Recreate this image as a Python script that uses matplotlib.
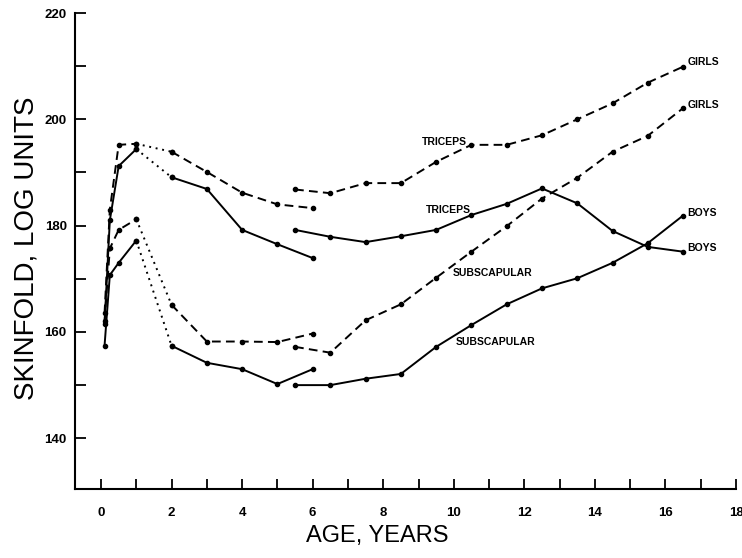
import numpy as np
import matplotlib
matplotlib.use('Agg')
import matplotlib.pyplot as plt
from matplotlib.ticker import MultipleLocator

# ages (years) of the two measurement series
ages_early = [0.1, 0.25, 0.5, 1, 2, 3, 4, 5, 6]
ages_late = [5.5, 6.5, 7.5, 8.5, 9.5, 10.5, 11.5, 12.5, 13.5, 14.5, 15.5, 16.5]

# skinfold, log units
girls_triceps_early = [163.5, 183.0, 195.2, 195.4, 193.9, 190.1, 186.2, 184.0, 183.3]
boys_triceps_early = [161.5, 181.0, 191.2, 194.4, 189.1, 186.9, 179.2, 176.5, 173.9]
girls_subscap_early = [162.0, 175.7, 179.2, 181.2, 165.1, 158.2, 158.2, 158.1, 159.7]
boys_subscap_early = [157.4, 170.7, 173.0, 177.2, 157.4, 154.2, 153.0, 150.2, 153.0]

girls_triceps_late = [186.8, 186.1, 188.0, 188.0, 192.0, 195.2, 195.2, 197.0, 200.0, 203.0, 206.9, 209.9]
boys_triceps_late = [179.2, 177.9, 176.9, 178.0, 179.2, 182.0, 184.1, 187.0, 184.2, 179.0, 176.0, 175.1]
girls_subscap_late = [157.2, 156.1, 162.2, 165.2, 170.2, 175.1, 179.9, 185.1, 189.0, 193.9, 196.9, 202.1]
boys_subscap_late = [150.0, 150.0, 151.2, 152.1, 157.2, 161.3, 165.2, 168.2, 170.1, 173.0, 176.7, 181.9]

font = ['Liberation Sans', 'DejaVu Sans']
dashed = (0, (4.5, 2.7))
dotted = (0, (1, 2.4))

fig = plt.figure(figsize=(7.42, 5.58), dpi=100)
ax = fig.add_axes([0.1011, 0.1231, 0.8908, 0.8536])

kw = dict(color='black', lw=1.4, marker='o', ms=3)
series = [
    (girls_triceps_early, girls_triceps_late, dashed),
    (boys_triceps_early, boys_triceps_late, '-'),
    (girls_subscap_early, girls_subscap_late, dashed),
    (boys_subscap_early, boys_subscap_late, '-'),
]
for early, late, ls in series:
    ax.plot(ages_early[:4], early[:4], ls=ls, **kw)
    ax.plot(ages_early[3:5], early[3:5], ls=dotted, **kw)
    ax.plot(ages_early[4:], early[4:], ls=ls, **kw)
    ax.plot(ages_late, late, ls=ls, **kw)

# curve labels
lab = dict(fontsize=7.5, fontweight='bold', family=font, va='center', ha='left')
ax.text(9.1, 195.8, 'TRICEPS', **lab)
ax.text(9.2, 182.9, 'TRICEPS', **lab)
ax.text(9.97, 171.1, 'SUBSCAPULAR', **lab)
ax.text(10.06, 158.2, 'SUBSCAPULAR', **lab)
ax.text(16.63, 210.8, 'GIRLS', **lab)
ax.text(16.63, 202.7, 'GIRLS', **lab)
ax.text(16.63, 182.4, 'BOYS', **lab)
ax.text(16.63, 175.8, 'BOYS', **lab)

ax.set_xlim(-0.737, 18.0)
ax.set_ylim(130.4, 220)
ax.spines['top'].set_visible(False)
ax.spines['right'].set_visible(False)
ax.spines['left'].set_linewidth(1.5)
ax.spines['bottom'].set_linewidth(1.5)

ax.xaxis.set_major_locator(MultipleLocator(2))
ax.xaxis.set_minor_locator(MultipleLocator(1))
ax.yaxis.set_major_locator(MultipleLocator(20))
ax.yaxis.set_minor_locator(MultipleLocator(10))
ax.tick_params(axis='x', which='both', direction='in', length=7, width=1.3, pad=13)
ax.tick_params(axis='y', which='both', direction='in', length=8, width=1.3, pad=6)
for t in ax.get_xticklabels() + ax.get_yticklabels():
    t.set_family(font)
    t.set_fontweight('bold')
    t.set_fontsize(9.5)

ax.set_xlabel('AGE, YEARS', family=font, fontsize=17)
ax.xaxis.set_label_coords(0.458, -0.075)
ax.set_ylabel('SKINFOLD, LOG UNITS', family=font, fontsize=20)
ax.yaxis.set_label_coords(-0.053, 0.507)

fig.savefig('out.png', dpi=100)
